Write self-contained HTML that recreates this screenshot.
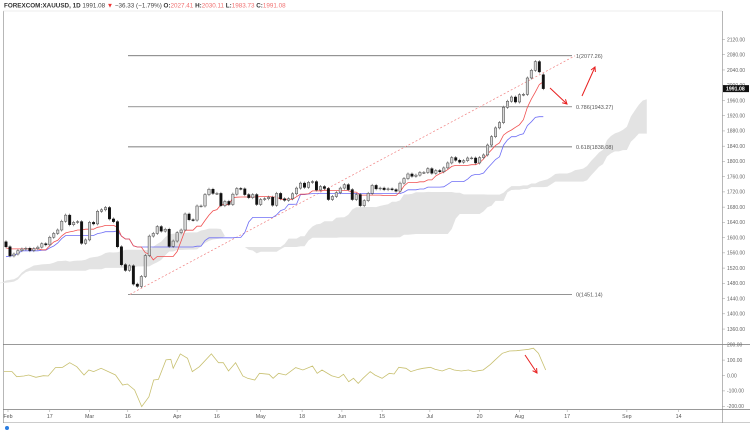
<!DOCTYPE html>
<html><head><meta charset="utf-8"><style>
html,body{margin:0;padding:0;background:#fff;}
body{width:750px;height:430px;overflow:hidden;font-family:"Liberation Sans",sans-serif;}
svg{display:block}
</style></head><body>
<svg id="chart" width="750" height="430" viewBox="0 0 750 430" xmlns="http://www.w3.org/2000/svg">
<rect width="750" height="430" fill="#fff"/>
<text x="4" y="7.5" font-size="6.3" fill="#333"><tspan font-weight="bold">FOREXCOM:XAUUSD, 1D</tspan> <tspan fill="#444">1991.08</tspan> <tspan fill="#e33">▼</tspan> <tspan fill="#444">−36.33 (−1.79%)</tspan> <tspan font-weight="bold">O:</tspan><tspan fill="#f07070">2027.41</tspan> <tspan font-weight="bold">H:</tspan><tspan fill="#f07070">2030.11</tspan> <tspan font-weight="bold">L:</tspan><tspan fill="#f07070">1983.73</tspan> <tspan font-weight="bold">C:</tspan><tspan fill="#f07070">1991.08</tspan></text>
<g id="frame">
<line x1="3.5" y1="11" x2="3.5" y2="423" stroke="#999" stroke-width="0.7"/>
<line x1="3" y1="11" x2="722" y2="11" stroke="#ddd" stroke-width="0.5"/>
<line x1="722.5" y1="11" x2="722.5" y2="423" stroke="#999" stroke-width="0.7"/>
<line x1="3" y1="344.5" x2="750" y2="344.5" stroke="#777" stroke-width="0.8"/>
<line x1="3" y1="409.5" x2="750" y2="409.5" stroke="#777" stroke-width="0.8"/>
<line x1="3" y1="422.5" x2="750" y2="422.5" stroke="#999" stroke-width="0.6"/>
</g>
<g id="cloud"></g><g id="fib"></g><g id="lines"></g><g id="candles"></g><g id="axes"></g><g id="osc"></g><g id="anno"></g>
<circle cx="7" cy="428" r="2" fill="#2a7de1"/>
</svg>
<script>
const preCloses=[1510,1484,1491,1467,1459,1456,1455,1463,1471,1468,1472,1471,1464,1464,1463,1456,1454,1460,1452,1464,1462,1477,1474,1475,1460,1463,1464,1475,1468,1476,1476,1477,1479,1478,1479,1485,1499,1504,1511,1514,1517,1528,1552,1567,1574,1556,1542,1551,1564,1548,1545,1555,1557,1552,1560,1558,1557,1562,1571,1582,1569,1577,1575,1589];
const closes=[1576,1552,1557,1566,1570,1572,1566,1571,1575,1584,1581,1601,1611,1620,1643,1659,1634,1640,1642,1585,1594,1640,1636,1669,1673,1679,1649,1642,1576,1529,1514,1526,1478,1472,1498,1553,1604,1611,1629,1617,1622,1577,1591,1613,1620,1662,1647,1646,1683,1683,1713,1727,1716,1716,1684,1695,1687,1714,1729,1728,1713,1705,1713,1687,1700,1702,1706,1685,1716,1702,1698,1702,1715,1730,1743,1732,1745,1747,1725,1734,1729,1700,1708,1718,1730,1739,1726,1700,1713,1684,1697,1716,1737,1728,1730,1726,1728,1726,1722,1743,1755,1767,1761,1764,1771,1771,1781,1769,1776,1773,1783,1796,1810,1803,1798,1802,1809,1809,1796,1810,1817,1843,1865,1888,1902,1942,1958,1969,1956,1975,1976,2019,2039,2062,2035,1991.08];
const lastOpen=2027.41;
const cciBars=[-1.5,1.5,2.7,4.5,5.7,7.5,9.4,10.6,12.4,14.2,16.0,17.8,19.6,20.8,22.0,23.9,25.7,27.5,29.3,30.5,32.3,34.1,35.9,37.1,38.3,40.2,41.4,42.0,43.8,45.6,46.8,48.6,51.6,53.4,54.6,55.9,57.7,59.5,60.7,62.5,63.7,66.1,67.1,68.5,70.3,72.8,74.6,77.0,78.2,79.4,81.8,83.6,84.8,86.1,87.3,88.5,89.7,91.5,92.7,94.5,96.3,97.5,98.7,100.5,101.7,103.6,104.8,106.6,107.8,109.6,111.4,112.6,114.4,116.2,117.5,118.7,119.9,121.7,122.9,124.7,126.5,128.3,130.1,131.3,132.5,133.8,135.6];
const cciValues=[25,25,-8,-3,3,-12,-1,-3,51,53,83,57,3,36,25,47,25,3,-62,-55,-94,-202,-138,-29,-25,101,105,47,140,112,25,57,140,83,83,29,83,-3,-18,-29,14,8,-18,14,3,51,36,62,14,36,-1,-14,8,-40,-18,-51,-18,25,3,-18,14,10,53,47,25,40,47,53,40,29,47,36,29,36,25,31,36,72,101,144,159,161,166,170,177,144,36];
const priceTicks=[2120,2080,2040,2000,1960,1920,1880,1840,1800,1760,1720,1680,1640,1600,1560,1520,1480,1440,1400,1360];
const oscTicks=[200,100,0,-100,-200];
const dateLabels=["Feb","17","Mar","16","Apr","16","May","18","Jun","15","Jul","20","Aug","17","Sep","14"];
const dateBars=[0.5,11,21,30.6,43,53,64,74.4,84.4,94.5,106.5,119,129,141,156,169];
const fibLevels=[1,0.786,0.618,0];
const fibPrices=[2077.26,1943.27,1838.08,1451.14];

const NS="http://www.w3.org/2000/svg";
const x=i=>6+i*3.98;
const y=p=>39.5+(2120-p)*0.381;
const yo=v=>375.5-v*0.154;
function mk(tag,attrs,parent){const e=document.createElementNS(NS,tag);for(const k in attrs)e.setAttribute(k,attrs[k]);parent.appendChild(e);return e;}
const all=preCloses.concat(closes);const P=preCloses.length;
const W=4;
const O=all.map((c,i)=>i===all.length-1?lastOpen:(i?all[i-1]:c));
const H=all.map((c,i)=>Math.max(c,O[i])+W);
const L=all.map((c,i)=>Math.min(c,O[i])-W);
function mid(i,n){let h=-1e9,l=1e9;for(let k=Math.max(0,i-n+1);k<=i;k++){h=Math.max(h,H[k]);l=Math.min(l,L[k]);}return (h+l)/2;}
const N=all.length;
const ten=all.map((_,i)=>mid(i,9)),kij=all.map((_,i)=>mid(i,26));
const cg=document.getElementById('cloud');
const cloudTop=[],cloudBot=[];
for(let i=0;i<N;i++){const j=i+26-P;if(j<-2)continue;const a=(ten[i]+kij[i])/2,b=mid(i,52);cloudTop.push([x(j),y(Math.max(a,b))]);cloudBot.push([x(j),y(Math.min(a,b))]);}
const cp=mk('polygon',{points:cloudTop.concat(cloudBot.slice().reverse()).map(p=>p.join(',')).join(' '),fill:'#e3e3e3'},cg);


const lg=document.getElementById('lines');
function pl(arr,col,name){const pts=[];for(let i=P;i<N;i++)pts.push(x(i-P)+','+y(arr[i]).toFixed(1));const e=mk('polyline',{points:pts.join(' '),fill:'none',stroke:col,'stroke-width':0.8},lg);}
pl(kij,'#6e6ef5','kijun-line');pl(ten,'#f05050','tenkan-line');
const cdg=document.getElementById('candles');
for(let i=P;i<N;i++){const j=i-P,cx=x(j),up=all[i]>=O[i];
const w=mk('line',{x1:cx,x2:cx,y1:y(H[i]),y2:y(L[i]),stroke:'#555','stroke-width':0.6},cdg);


const t=y(Math.max(all[i],O[i])),bt=y(Math.min(all[i],O[i]));
const r=mk('rect',{x:cx-1.2,y:t,width:2.4,height:Math.max(0.8,bt-t),fill:up?'#d8d8d8':'#111',stroke:up?'#444':'#111','stroke-width':0.5},cdg);

}
const fg=document.getElementById('fib');
fibLevels.forEach((lv,k)=>{const yy=y(fibPrices[k]);
const l=mk('line',{x1:128,x2:572,y1:yy,y2:yy,stroke:'#555','stroke-width':0.7},fg);


const t=mk('text',{x:576,y:yy+2,'font-size':5.5,fill:'#555'},fg);t.textContent=lv+'('+fibPrices[k].toFixed(2)+')';

});
const tl=mk('line',{x1:130,y1:y(fibPrices[3]),x2:575,y2:y(fibPrices[0]),stroke:'#f08080','stroke-width':0.7,'stroke-dasharray':'2,2'},fg);


const ag=document.getElementById('axes');
priceTicks.forEach(p=>{const yy=y(p);mk('line',{x1:722,x2:725,y1:yy,y2:yy,stroke:'#999','stroke-width':0.5},ag);
const t=mk('text',{x:727,y:yy+1.8,'font-size':5,fill:'#666'},ag);t.textContent=p.toFixed(2);

});
const lp=closes[closes.length-1];
const tag=mk('rect',{x:723,y:y(lp)-3.5,width:26,height:7,fill:'#111'},ag);


const tt=mk('text',{x:726,y:y(lp)+1.9,'font-size':5.2,fill:'#fff','font-weight':'bold'},ag);tt.textContent=lp.toFixed(2);


oscTicks.forEach(v=>{const yy=yo(v);mk('line',{x1:722,x2:725,y1:yy,y2:yy,stroke:'#999','stroke-width':0.5},ag);
const t=mk('text',{x:727,y:yy+1.8,'font-size':5,fill:'#666'},ag);t.textContent=v.toFixed(2);

});
dateLabels.forEach((d,k)=>{const xx=x(dateBars[k]);mk('line',{x1:xx,x2:xx,y1:409.5,y2:412,stroke:'#999','stroke-width':0.5},ag);
const t=mk('text',{x:xx,y:418,'font-size':5.3,fill:'#555','text-anchor':'middle'},ag);t.textContent=d;

});
const og=document.getElementById('osc');
const op=cciBars.map((b,k)=>Math.max(4,x(b)).toFixed(1)+','+yo(cciValues[k]).toFixed(1));
const ol=mk('polyline',{points:op.join(' '),fill:'none',stroke:'#c8c070','stroke-width':0.8},og);


const an=document.getElementById('anno');
function arrow(x1,y1,x2,y2,name){const g=mk('g',{},an);
mk('line',{x1,y1,x2,y2,stroke:'#e82020','stroke-width':1},g);
const a=Math.atan2(y2-y1,x2-x1),h=5;
mk('polyline',{points:`${x2-h*Math.cos(a-0.5)},${y2-h*Math.sin(a-0.5)} ${x2},${y2} ${x2-h*Math.cos(a+0.5)},${y2-h*Math.sin(a+0.5)}`,fill:'none',stroke:'#e82020','stroke-width':1},g);}
arrow(550,88,567,104,'down-arrow');arrow(582,96,595,67,'up-arrow');arrow(525,355,537,373,'osc-down-arrow');
</script>
</body></html>
